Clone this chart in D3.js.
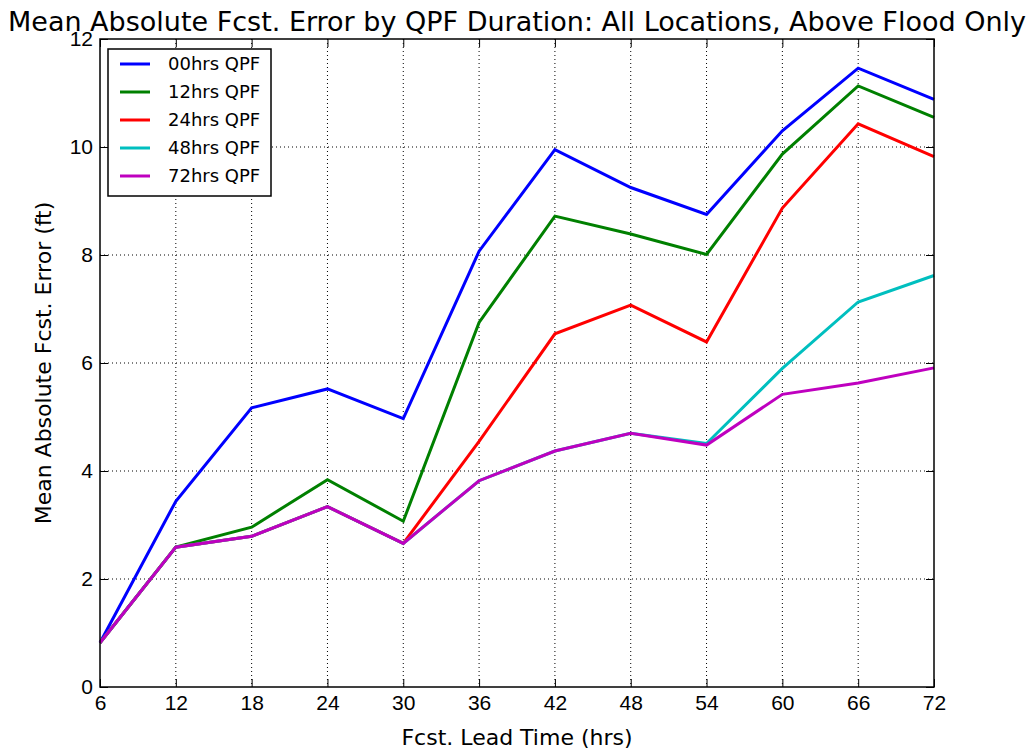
<!DOCTYPE html>
<html>
<head>
<meta charset="utf-8">
<script src="https://cdn.jsdelivr.net/npm/d3@7"></script>
<style>
  body { margin: 0; background: #fff; }
  svg { font-family: "DejaVu Sans", sans-serif; }
</style>
</head>
<body>
<div id="chart"></div>
<script>
'use strict';

// lead times (hrs)
const leadTimes = [6, 12, 18, 24, 30, 36, 42, 48, 54, 60, 66, 72];
const xTicks = [6, 12, 18, 24, 30, 36, 42, 48, 54, 60, 66, 72];
const yTicks = [0, 2, 4, 6, 8, 10, 12];

const seriesNames = ['00hrs QPF', '12hrs QPF', '24hrs QPF', '48hrs QPF', '72hrs QPF'];
const seriesColors = ['#0000ff', '#008000', '#ff0000', '#00bfbf', '#bf00bf'];

const qpf00 = [0.82, 3.44, 5.17, 5.52, 4.97, 8.07, 9.95, 9.25, 8.75, 10.3, 11.46, 10.88];
const qpf12 = [0.82, 2.59, 2.96, 3.84, 3.07, 6.75, 8.72, 8.39, 8.01, 9.87, 11.13, 10.55];
const qpf24 = [0.82, 2.59, 2.79, 3.34, 2.66, 4.55, 6.54, 7.07, 6.39, 8.87, 10.43, 9.82];
const qpf48 = [0.82, 2.59, 2.79, 3.34, 2.66, 3.82, 4.37, 4.70, 4.51, 5.90, 7.13, 7.62];
const qpf72 = [0.82, 2.59, 2.79, 3.34, 2.66, 3.82, 4.37, 4.70, 4.48, 5.42, 5.63, 5.91];

const allSeries = [qpf00, qpf12, qpf24, qpf48, qpf72];

const width = 1029, height = 754;
const margin = {top: 39, right: 95, bottom: 67, left: 100};
const w = width - margin.left - margin.right;
const h = height - margin.top - margin.bottom;

const svg = d3.select('#chart').append('svg')
    .attr('width', width)
    .attr('height', height);

const g = svg.append('g')
    .attr('transform', 'translate(' + margin.left + ',' + margin.top + ')');

const x = d3.scaleLinear().domain([6, 72]).range([0, w]);
const y = d3.scaleLinear().domain([0, 12]).range([h, 0]);

// grid
g.append('g').selectAll('line')
    .data(xTicks.slice(1, -1))
    .enter().append('line')
    .attr('x1', d => x(d)).attr('x2', d => x(d))
    .attr('y1', 0).attr('y2', h)
    .attr('stroke', '#000').attr('stroke-width', 1)
    .attr('stroke-dasharray', '1,3');

g.append('g').selectAll('line')
    .data(yTicks.slice(1, -1))
    .enter().append('line')
    .attr('x1', 0).attr('x2', w)
    .attr('y1', d => y(d)).attr('y2', d => y(d))
    .attr('stroke', '#000').attr('stroke-width', 1)
    .attr('stroke-dasharray', '1,3');

// lines
const line = d3.line()
    .x((d, i) => x(leadTimes[i]))
    .y(d => y(d));

allSeries.forEach(function(s, i) {
    g.append('path')
        .datum(s)
        .attr('fill', 'none')
        .attr('stroke', seriesColors[i])
        .attr('stroke-width', 3)
        .attr('stroke-linejoin', 'miter')
        .attr('d', line);
});

// axes (ticks inward, on all four sides)
const tickLen = 8;
g.append('g')
    .attr('transform', 'translate(0,' + h + ')')
    .call(d3.axisBottom(x).tickValues(xTicks).tickSizeInner(-tickLen).tickSizeOuter(0).tickPadding(8))
    .call(a => a.selectAll('text').attr('font-size', 21).attr('fill', '#000'));

g.append('g')
    .call(d3.axisTop(x).tickValues(xTicks).tickSizeInner(-tickLen).tickSizeOuter(0))
    .call(a => a.selectAll('text').remove());

g.append('g')
    .call(d3.axisLeft(y).tickValues(yTicks).tickSizeInner(-tickLen).tickSizeOuter(0).tickPadding(7))
    .call(a => a.selectAll('text').attr('font-size', 21).attr('fill', '#000'));

g.append('g')
    .attr('transform', 'translate(' + w + ',0)')
    .call(d3.axisRight(y).tickValues(yTicks).tickSizeInner(-tickLen).tickSizeOuter(0))
    .call(a => a.selectAll('text').remove());

g.selectAll('.domain').remove();
g.selectAll('.tick line').attr('stroke', '#000').attr('stroke-width', 1);

// frame
g.append('rect')
    .attr('x', 0).attr('y', 0)
    .attr('width', w).attr('height', h)
    .attr('fill', 'none')
    .attr('stroke', '#000')
    .attr('stroke-width', 1.5);

// title and labels
svg.append('text')
    .attr('x', margin.left + w / 2)
    .attr('y', 31)
    .attr('text-anchor', 'middle')
    .attr('font-size', 27)
    .text('Mean Absolute Fcst. Error by QPF Duration: All Locations, Above Flood Only');

svg.append('text')
    .attr('x', margin.left + w / 2)
    .attr('y', 745)
    .attr('text-anchor', 'middle')
    .attr('font-size', 22)
    .text('Fcst. Lead Time (hrs)');

svg.append('text')
    .attr('transform', 'translate(51,' + (margin.top + h / 2) + ') rotate(-90)')
    .attr('text-anchor', 'middle')
    .attr('font-size', 22)
    .text('Mean Absolute Fcst. Error (ft)');

// legend
const legend = svg.append('g').attr('transform', 'translate(108,49)');
legend.append('rect')
    .attr('width', 163).attr('height', 147)
    .attr('fill', '#fff')
    .attr('stroke', '#000')
    .attr('stroke-width', 1.5);

seriesNames.forEach(function(name, i) {
    const yy = 15 + i * 28;
    legend.append('line')
        .attr('x1', 12).attr('x2', 42)
        .attr('y1', yy).attr('y2', yy)
        .attr('stroke', seriesColors[i])
        .attr('stroke-width', 3);
    legend.append('text')
        .attr('x', 60).attr('y', yy + 6)
        .attr('font-size', 18)
        .text(name);
});
</script>
</body>
</html>
